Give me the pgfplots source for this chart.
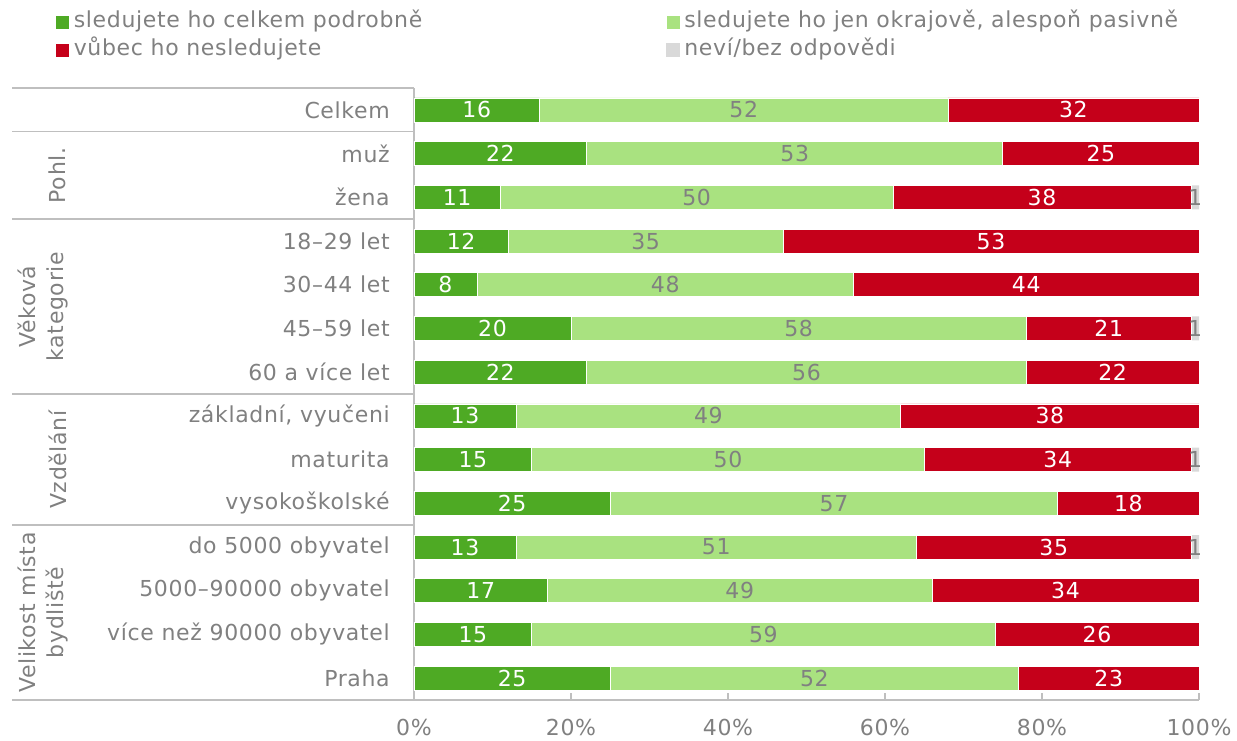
\documentclass[border=0pt]{standalone}
\usepackage{fontspec}
\setmainfont{DejaVu Sans}[LetterSpace=3]
\usepackage{pgfplots}
\usepackage{pgfplotstable}
\pgfplotsset{compat=1.18}

\definecolor{cDark}{RGB}{78,170,36}
\definecolor{cLight}{RGB}{169,226,128}
\definecolor{cRed}{RGB}{197,0,26}
\definecolor{cGray}{RGB}{217,217,217}
\definecolor{txt}{RGB}{128,128,128}
\definecolor{lines}{RGB}{191,191,191}

% rows from bottom (Praha) to top (Celkem)
\pgfplotstableread{
y a  b  c  d
0 25 52 23 0
1 15 59 26 0
2 17 49 34 0
3 13 51 35 1
4 25 57 18 0
5 15 50 34 1
6 13 49 38 0
7 22 56 22 0
8 20 58 21 1
9  8 48 44 0
10 12 35 53 0
11 11 50 38 1
12 22 53 25 0
13 16 52 32 0
}\datatable

\begin{document}
\begin{tikzpicture}
\path[use as bounding box] (0,0) rectangle (927.75pt,-555.75pt);
\begin{axis}[
  at={(310.5pt,-525pt)}, anchor=south west,
  scale only axis, width=588.75pt, height=459pt,
  xbar stacked, bar width=18pt,
  xmin=0, xmax=100, ymin=-0.5, ymax=13.5,
  clip=false,
  font=\fontsize{16.5}{19}\selectfont,
  /pgf/number format/assume math mode=true,
  axis x line*=bottom, axis y line*=left,
  axis line style={lines, line width=1pt},
  xtick={0,20,...,100}, xtick align=inside,
  major tick length=5.25pt,
  tick style={lines, line width=1pt},
  xticklabel={\pgfmathprintnumber{\tick}\%},
  x tick label style={text=txt, inner sep=0pt, yshift=-14pt},
  ytick={0,...,13},
  y tick style={draw=none},
  yticklabels={Praha, více než 90000 obyvatel, 5000–90000 obyvatel, do 5000 obyvatel,
    vysokoškolské, maturita, {základní, vyučeni}, 60 a více let, 45–59 let, 30–44 let,
    18–29 let, žena, muž, Celkem},
  y tick label style={text=txt, inner sep=0pt, anchor=east, xshift=-18pt},
  point meta=explicit,
  nodes near coords={\pgfmathfloatifflags{\pgfplotspointmeta}{0}{}{\pgfmathprintnumber{\pgfplotspointmeta}}},
  every node near coord/.append style={font=\fontsize{16.5}{19}\selectfont, inner sep=0pt},
  legend columns=2, legend cell align=left,
  legend image code/.code={\fill[#1] (0pt,-5pt) rectangle (10.5pt,5.5pt);},
  legend style={at={(-0.4573,1.1225)}, anchor=north west, draw=none, fill=none,
    inner sep=0pt, text=txt, font=\fontsize{16.5}{19}\selectfont,
    nodes={inner sep=0pt, text height=11pt, text depth=3pt},
    row sep=7pt,
    /tikz/every odd column/.style={column sep=3pt}},
]
\addplot[fill=cDark, draw=white, line width=0.4pt, every node near coord/.append style={text=white}]
  table[x=a, y=y, meta=a] {\datatable};
\addlegendentry{\makebox[444pt][l]{sledujete ho celkem podrobně}}
\addplot[fill=cLight, draw=white, line width=0.4pt, every node near coord/.append style={text=txt}]
  table[x=b, y=y, meta=b] {\datatable};
\addlegendentry{sledujete ho jen okrajově, alespoň pasivně}
\addplot[fill=cRed, draw=white, line width=0.4pt, every node near coord/.append style={text=white}]
  table[x=c, y=y, meta=c] {\datatable};
\addlegendentry{vůbec ho nesledujete}
\addplot[fill=cGray, draw=none, every node near coord/.append style={text=txt}]
  table[x=d, y=y, meta=d] {\datatable};
\addlegendentry{neví/bez odpovědi}

% group table on the left
\draw[lines, line width=1pt] (axis cs:-51.2,13.5) -- (axis cs:0,13.5);
\draw[lines, line width=1pt] (axis cs:-51.2,12.5) -- (axis cs:0,12.5);
\draw[lines, line width=1pt] (axis cs:-51.2,10.5) -- (axis cs:0,10.5);
\draw[lines, line width=1pt] (axis cs:-51.2,6.5) -- (axis cs:0,6.5);
\draw[lines, line width=1pt] (axis cs:-51.2,3.5) -- (axis cs:0,3.5);
\draw[lines, line width=1pt] (axis cs:-51.2,-0.5) -- (axis cs:0,-0.5);
\node[text=txt, rotate=90, align=center] at (axis cs:-45.4,11.5) {Pohl.};
\node[text=txt, rotate=90, align=center, font=\fontsize{16.5}{21}\selectfont] at (axis cs:-47.3,8.5) {Věková\\kategorie};
\node[text=txt, rotate=90, align=center] at (axis cs:-45.4,5) {Vzdělání};
\node[text=txt, rotate=90, align=center, font=\fontsize{16.5}{21}\selectfont] at (axis cs:-47.3,1.5) {Velikost místa\\bydliště};
\end{axis}
\end{tikzpicture}
\end{document}
